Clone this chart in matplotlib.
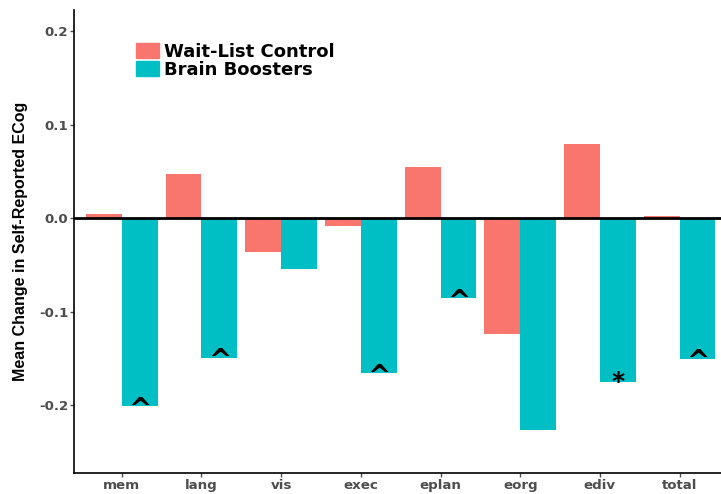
import matplotlib.pyplot as plt
import numpy as np
from matplotlib.patches import Patch

categories = ["mem", "lang", "vis", "exec", "eplan", "eorg", "ediv", "total"]
waitlist = [0.005, 0.048, -0.036, -0.008, 0.055, -0.124, 0.080, 0.003]
boosters = [-0.201, -0.149, -0.054, -0.166, -0.085, -0.226, -0.175, -0.150]
marks = ["^", "^", "", "^", "^", "", "*", "^"]

red = "#F8766D"
teal = "#00BFC4"
tickgray = "#4D4D4D"

plt.rcParams['font.family'] = ['DejaVu Sans']

fig = plt.figure(figsize=(7.21, 4.94), dpi=100)
ax = fig.add_axes([0.1026, 0.0425, 0.8974, 0.9373])

x = np.arange(1, len(categories) + 1)
w = 0.45
ax.bar(x - w / 2, waitlist, width=w, color=red, zorder=2)
ax.bar(x + w / 2, boosters, width=w, color=teal, zorder=2)
ax.axhline(0, color="black", linewidth=2, zorder=3)

for xi, val, m in zip(x, boosters, marks):
    if m == "^":
        ax.text(xi + w / 2, val - 0.004, m, ha="center", va="center",
                fontsize=20, fontweight="bold", zorder=4)
    elif m:
        ax.text(xi + w / 2, val, m, ha="center", va="center",
                fontsize=18, fontweight="bold", zorder=4)

ax.set_xlim(0.4, 8.52)
ax.set_ylim(-0.2725, 0.223)
ax.set_xticks(x)
ax.set_xticklabels(categories)
ax.set_yticks([-0.2, -0.1, 0.0, 0.1, 0.2])
ax.set_yticklabels(["-0.2", "-0.1", "0.0", "0.1", "0.2"])
ax.tick_params(axis="both", colors=tickgray, labelsize=9.6, length=3, width=1, pad=1)
for lab in ax.get_xticklabels() + ax.get_yticklabels():
    lab.set_fontweight("bold")
    lab.set_color(tickgray)

ax.set_ylabel("Mean Change in Self-Reported ECog", fontsize=11.5, fontweight="bold",
              family="Liberation Sans", labelpad=8)
ax.spines["top"].set_visible(False)
ax.spines["right"].set_visible(False)
ax.spines["left"].set_linewidth(1.2)
ax.spines["bottom"].set_linewidth(1.2)

handles = [Patch(color=red), Patch(color=teal)]
ax.legend(handles, ["Wait-List Control", "Brain Boosters"], loc="upper left",
          bbox_to_anchor=(0.084, 0.945), frameon=False,
          prop={"weight": "bold", "size": 13}, handlelength=1.3, handleheight=0.95,
          handletextpad=0.3, labelspacing=0.0, borderaxespad=0)

fig.savefig("out.png", dpi=100)
